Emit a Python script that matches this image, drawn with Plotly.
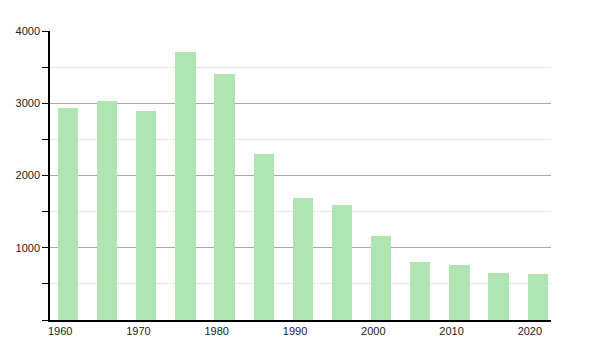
import plotly.graph_objects as go

years = [1961, 1966, 1971, 1976, 1981, 1986, 1991, 1996, 2001, 2006, 2011, 2016, 2021]
values = [2940, 3030, 2890, 3710, 3400, 2300, 1690, 1590, 1160, 800, 760, 650, 636]
x_ticks = [1960, 1970, 1980, 1990, 2000, 2010, 2020]
y_ticks = [1000, 2000, 3000, 4000]

fig = go.Figure(go.Bar(
    x=years, y=values, width=2.6,
    marker=dict(color="#b0e4b0", line=dict(width=0)),
    hoverinfo="x+y",
))

fig.update_layout(
    width=600, height=350,
    margin=dict(l=50, r=49, t=31, b=30),
    paper_bgcolor="white", plot_bgcolor="white",
    font=dict(family="Liberation Sans, Arial, sans-serif", size=11, color="#222"),
    showlegend=False,
    bargap=0,
)
fig.update_xaxes(
    range=[1958.7, 2022.7],
    tickvals=x_ticks, ticktext=[str(t) for t in x_ticks],
    showgrid=False, zeroline=False,
    showline=True, linecolor="black", linewidth=1.5,
    ticks="", ticklabelstandoff=0,
)
fig.update_yaxes(
    range=[0, 4000],
    tickvals=y_ticks, ticktext=[str(t) for t in y_ticks],
    showgrid=True, gridcolor="#aaaaaa", gridwidth=1,
    zeroline=False,
    showline=True, linecolor="black", linewidth=1.5,
    ticks="outside", ticklen=6, tickcolor="black",
    minor=dict(dtick=500, tick0=500, showgrid=True, gridcolor="#e8e8e8",
               ticks="outside", ticklen=6, tickcolor="black"),
)

fig.write_html("out.html")
